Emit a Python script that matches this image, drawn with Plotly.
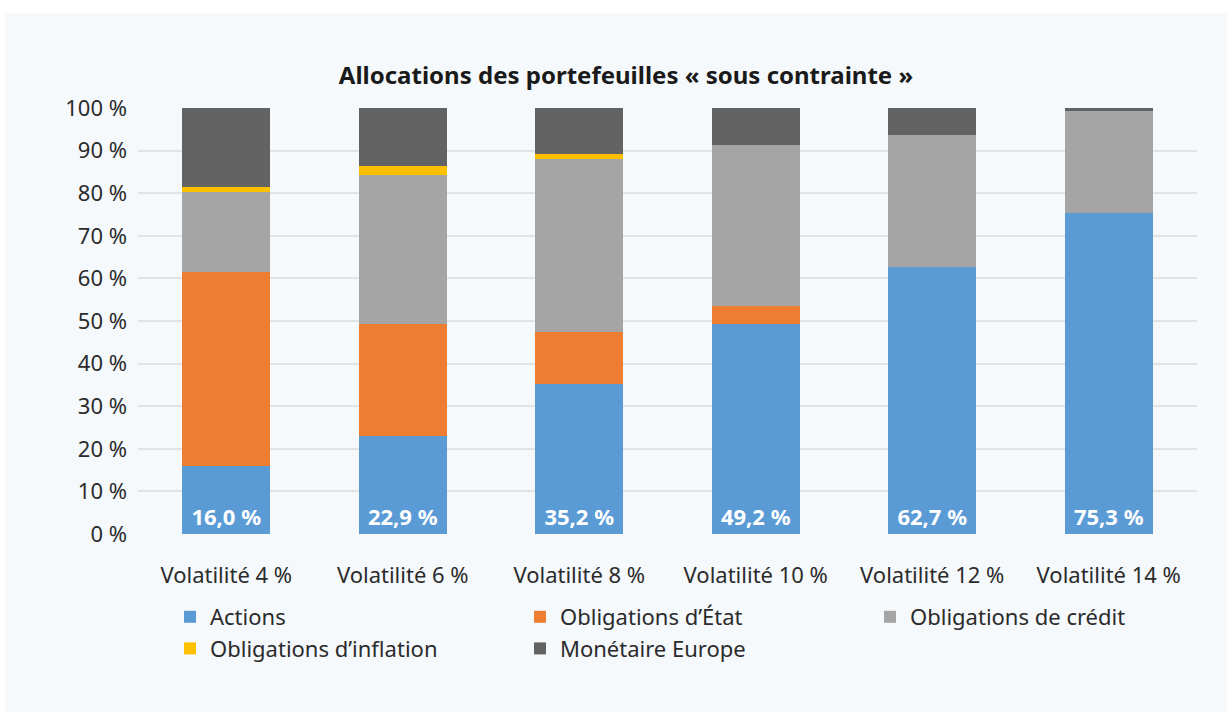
import plotly.graph_objects as go

# Portfolio allocations (% of portfolio) by volatility target
categories = ["Volatilité 4 %", "Volatilité 6 %", "Volatilité 8 %",
              "Volatilité 10 %", "Volatilité 12 %", "Volatilité 14 %"]
actions = [16.0, 22.9, 35.2, 49.2, 62.7, 75.3]
oblig_etat = [45.5, 26.3, 12.2, 4.3, 0.0, 0.0]
oblig_credit = [18.7, 35.0, 40.7, 37.7, 31.0, 23.9]
oblig_inflation = [1.2, 2.2, 1.1, 0.0, 0.0, 0.0]
monetaire = [18.6, 13.6, 10.8, 8.8, 6.3, 0.8]
y_ticks = [0, 10, 20, 30, 40, 50, 60, 70, 80, 90, 100]
y_tick_labels = [f"{v} %" for v in y_ticks]

series = [
    ("Actions", actions, "#5B9BD5"),
    ("Obligations d’État", oblig_etat, "#ED7D31"),
    ("Obligations de crédit", oblig_credit, "#A5A5A5"),
    ("Obligations d’inflation", oblig_inflation, "#FFC000"),
    ("Monétaire Europe", monetaire, "#636363"),
]

FONT = "Noto Sans"
TEXT = "#2b2b2b"
PANEL = "#f5f9fc"

fig = go.Figure()
for name, vals, color in series:
    kw = {}
    if name == "Actions":
        kw = dict(
            texttemplate="%{y:.1f} %",
            textposition="inside",
            insidetextanchor="start",
            textangle=0,
            constraintext="none",
            insidetextfont=dict(family=FONT, size=22, color="white", weight="bold"),
        )
    fig.add_trace(go.Bar(
        x=categories, y=vals, name=name,
        marker=dict(color=color, line=dict(width=0)),
        hoverinfo="skip", **kw,
    ))

# geometry of the plotting area (pixels)
W, H = 1227, 712
L, R, T, B = 138, 30, 108, 178
pw, ph = W - L - R, H - T - B

def px_x(px):
    return (px - L) / pw

def px_y(py):
    return (H - B - py) / ph

# light background panel
fig.add_shape(type="rect", xref="paper", yref="paper",
              x0=px_x(5), x1=px_x(W + 5), y0=px_y(H + 5), y1=px_y(13),
              fillcolor=PANEL, line=dict(width=0), layer="below")

fig.update_layout(
    width=W, height=H,
    margin=dict(l=L, r=R, t=T, b=B, pad=0, autoexpand=False),
    barmode="stack",
    bargap=0.5,
    separators=", ",
    paper_bgcolor="white",
    plot_bgcolor="rgba(0,0,0,0)",
    font=dict(family=FONT, size=22, color=TEXT),
    title=dict(
        text="Allocations des portefeuilles « sous contrainte »",
        x=px_x(626), xref="paper", xanchor="center",
        y=1 - 76 / H, yanchor="middle",
        font=dict(family=FONT, size=24, color="#1a1a1a", weight="bold"),
    ),
    xaxis=dict(
        showgrid=False, showline=False, ticks="",
        ticklabelstandoff=26, automargin=False,
        tickfont=dict(family=FONT, size=22, color=TEXT),
    ),
    yaxis=dict(
        range=[0, 100], tickmode="array",
        tickvals=y_ticks, ticktext=y_tick_labels,
        showgrid=True, gridcolor="#e1e3e5", gridwidth=1.5,
        zeroline=False, showline=False, ticks="",
        ticklabelstandoff=10, automargin=False,
        tickfont=dict(family=FONT, size=22, color=TEXT),
    ),
    legend=dict(
        orientation="h", traceorder="normal",
        x=px_x(170), xanchor="left",
        y=px_y(596), yanchor="top",
        entrywidth=305, entrywidthmode="pixels",
        font=dict(family=FONT, size=22, color=TEXT),
        bgcolor="rgba(0,0,0,0)",
        itemclick=False,
    ),
)

fig.write_html("out.html")
